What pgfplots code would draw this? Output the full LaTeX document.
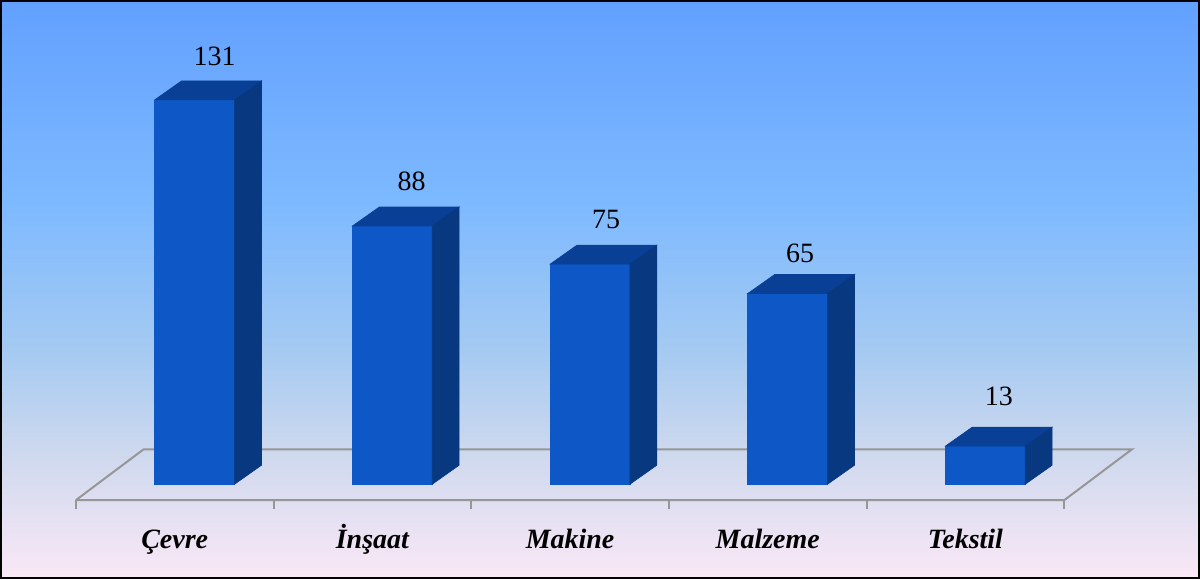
\documentclass[border=0pt]{standalone}
\usepackage{fontspec}
\setmainfont{Liberation Serif}
\usepackage{pgfplots}
\pgfplotsset{compat=1.18}
\definecolor{bgtop}{RGB}{98,160,255}
\definecolor{bgA}{RGB}{125,185,255}
\definecolor{bgB}{RGB}{165,202,242}
\definecolor{bgC}{RGB}{205,216,238}
\definecolor{bgbot}{RGB}{250,232,246}
\definecolor{barfront}{RGB}{14,87,198}
\definecolor{bartop}{RGB}{9,64,150}
\definecolor{barside}{RGB}{8,56,128}
\definecolor{floorgray}{RGB}{150,150,150}
\pgfdeclareverticalshading{bgshade}{100bp}{color(0bp)=(bgbot); color(25bp)=(bgbot); color(36.1bp)=(bgC); color(44.7bp)=(bgB); color(57.7bp)=(bgA); color(75bp)=(bgtop); color(100bp)=(bgtop)}
\begin{document}
\begin{tikzpicture}
\begin{axis}[
  scale only axis,
  width=600pt, height=289pt,
  xmin=-0.8788, xmax=5.1818,
  ymin=-31.98, ymax=164.68,
  xtick=\empty, ytick=\empty,
  axis line style={black, line width=1pt},
  axis background/.style={shading=bgshade},
  /pgf/number format/assume math mode=true,
  clip=false,
]
% floor
\addplot[floorgray, line width=1pt, mark=none] coordinates {(-0.5,-5.44) (4.5,-5.44) (4.843,11.91) (-0.157,11.91) (-0.5,-5.44)};
\addplot[floorgray, line width=1pt, mark=none] coordinates {(-0.5,-5.44) (-0.5,-8.3)};
\addplot[floorgray, line width=1pt, mark=none] coordinates {(0.5,-5.44) (0.5,-8.3)};
\addplot[floorgray, line width=1pt, mark=none] coordinates {(1.5,-5.44) (1.5,-8.3)};
\addplot[floorgray, line width=1pt, mark=none] coordinates {(2.5,-5.44) (2.5,-8.3)};
\addplot[floorgray, line width=1pt, mark=none] coordinates {(3.5,-5.44) (3.5,-8.3)};
\addplot[floorgray, line width=1pt, mark=none] coordinates {(4.5,-5.44) (4.5,-8.3)};
% front faces
\addplot[ybar, bar width=0.404, bar shift=0.101, fill=barfront, draw=barfront, line width=0.3pt]
  coordinates {(0,131) (1,88) (2,75) (3,65) (4,13)};
% top faces
\addplot[fill=bartop, draw=bartop, line width=0.3pt, mark=none] coordinates {(-0.101,131) (0.303,131) (0.439,137.47) (0.035,137.47)} -- cycle;
\addplot[fill=bartop, draw=bartop, line width=0.3pt, mark=none] coordinates {(0.899,88) (1.303,88) (1.439,94.47) (1.035,94.47)} -- cycle;
\addplot[fill=bartop, draw=bartop, line width=0.3pt, mark=none] coordinates {(1.899,75) (2.303,75) (2.439,81.47) (2.035,81.47)} -- cycle;
\addplot[fill=bartop, draw=bartop, line width=0.3pt, mark=none] coordinates {(2.899,65) (3.303,65) (3.439,71.47) (3.035,71.47)} -- cycle;
\addplot[fill=bartop, draw=bartop, line width=0.3pt, mark=none] coordinates {(3.899,13) (4.303,13) (4.439,19.47) (4.035,19.47)} -- cycle;
% side faces
\addplot[fill=barside, draw=barside, line width=0.3pt, mark=none] coordinates {(0.303,0) (0.303,131) (0.439,137.47) (0.439,6.47)} -- cycle;
\addplot[fill=barside, draw=barside, line width=0.3pt, mark=none] coordinates {(1.303,0) (1.303,88) (1.439,94.47) (1.439,6.47)} -- cycle;
\addplot[fill=barside, draw=barside, line width=0.3pt, mark=none] coordinates {(2.303,0) (2.303,75) (2.439,81.47) (2.439,6.47)} -- cycle;
\addplot[fill=barside, draw=barside, line width=0.3pt, mark=none] coordinates {(3.303,0) (3.303,65) (3.439,71.47) (3.439,6.47)} -- cycle;
\addplot[fill=barside, draw=barside, line width=0.3pt, mark=none] coordinates {(4.303,0) (4.303,13) (4.439,19.47) (4.439,6.47)} -- cycle;
% value labels
\addplot[draw=none, mark=none, nodes near coords, point meta=explicit symbolic,
  every node near coord/.style={anchor=base, yshift=0pt, font=\fontsize{14}{16}\selectfont, text=black}]
  coordinates {(0.202,142.57) [131] (1.199,100.03) [88] (2.182,87.10) [75] (3.164,75.54) [65] (4.169,26.88) [13]};
% category labels
\addplot[draw=none, mark=none, nodes near coords, point meta=explicit symbolic,
  every node near coord/.style={anchor=base, yshift=0pt, font=\fontsize{14}{16}\selectfont\bfseries\itshape, text=black}]
  coordinates {(0,-21.78) [Çevre] (1,-21.78) [İnşaat] (2,-21.78) [Makine] (3,-21.78) [Malzeme] (4,-21.78) [Tekstil]};
\end{axis}
\end{tikzpicture}
\end{document}
